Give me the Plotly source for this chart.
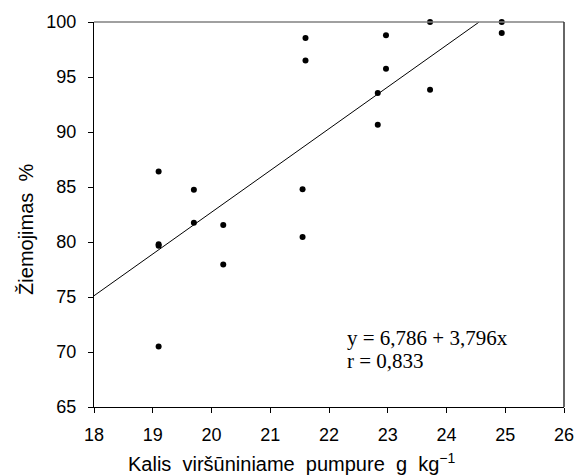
import plotly.graph_objects as go

# Data
potassium = [19.1, 19.1, 19.1, 19.1, 19.7, 19.7, 20.2, 20.2, 21.55, 21.55,
             21.6, 21.6, 22.83, 22.83, 22.97, 22.97, 23.72, 23.72, 24.94, 24.94]
wintering = [86.4, 79.8, 79.65, 70.5, 84.75, 81.75, 81.55, 77.95, 84.8, 80.45,
             98.55, 96.5, 93.55, 90.65, 98.8, 95.75, 100.0, 93.85, 100.0, 99.0]

intercept = 6.786
slope = 3.796
r_value = 0.833
line_x_start = 18.0
y_max = 100.0

x_ticks = [18, 19, 20, 21, 22, 23, 24, 25, 26]
y_ticks = [65, 70, 75, 80, 85, 90, 95, 100]

x_title = "Kalis\u00a0\u00a0viršūniniame\u00a0\u00a0pumpure\u00a0\u00a0g\u00a0\u00a0kg<sup>\u22121</sup>"
y_title = "Žiemojimas\u00a0\u00a0%"

line_x_end = (y_max - intercept) / slope
line_x = [line_x_start, line_x_end]
line_y = [intercept + slope * v for v in line_x]

fig = go.Figure()
fig.add_trace(go.Scatter(x=line_x, y=line_y, mode="lines",
                         line=dict(color="black", width=1), hoverinfo="skip"))
fig.add_trace(go.Scatter(x=potassium, y=wintering, mode="markers",
                         marker=dict(color="black", size=6), cliponaxis=False))

sans = "Arial, Liberation Sans, sans-serif"
tick_font = dict(family=sans, size=18, color="black")
title_font = dict(family=sans, size=20, color="black")

fig.update_layout(
    width=586, height=475,
    margin=dict(l=93.5, r=16.5, t=19, b=68),
    paper_bgcolor="white", plot_bgcolor="white",
    showlegend=False,
    xaxis=dict(range=[18, 26], tickvals=x_ticks, ticks="outside", ticklen=5,
               tickcolor="black", showline=True, linecolor="black", linewidth=1,
               showgrid=False, zeroline=False, tickfont=tick_font,
               ticklabelstandoff=6),
    yaxis=dict(range=[65, 100], tickvals=y_ticks, ticks="outside", ticklen=5,
               tickcolor="black", showline=True, linecolor="black", linewidth=1,
               showgrid=False, zeroline=False, tickfont=tick_font,
               ticklabelstandoff=8),
)

# axis titles (placed as in the reference, slightly off-centre)
fig.add_annotation(xref="paper", yref="paper", x=0.421, y=-0.144,
                   xanchor="center", yanchor="middle", showarrow=False,
                   text=x_title, font=title_font)
fig.add_annotation(xref="paper", yref="paper", x=-0.146, y=0.461,
                   xanchor="center", yanchor="middle", showarrow=False,
                   textangle=-90, text=y_title, font=title_font)

# frame: top (gray) and right (dark) borders
fig.add_shape(type="line", xref="paper", yref="paper", x0=0, x1=1, y0=1, y1=1,
              line=dict(color="#808080", width=1.5))
fig.add_shape(type="line", xref="paper", yref="paper", x0=1, x1=1, y0=0, y1=1,
              line=dict(color="#333333", width=1.5))

serif = dict(family="Times New Roman, Liberation Serif, serif", size=21, color="black")
eq_text = f"y = {intercept:.3f} + {slope:.3f}x".replace(".", ",")
r_text = f"r = {r_value:.3f}".replace(".", ",")
fig.add_annotation(xref="x", yref="y", x=22.28, y=71.3, xanchor="left", yanchor="middle",
                   showarrow=False, text=eq_text, font=serif)
fig.add_annotation(xref="x", yref="y", x=22.28, y=69.15, xanchor="left", yanchor="middle",
                   showarrow=False, text=r_text, font=serif)

fig.write_html("out.html")
